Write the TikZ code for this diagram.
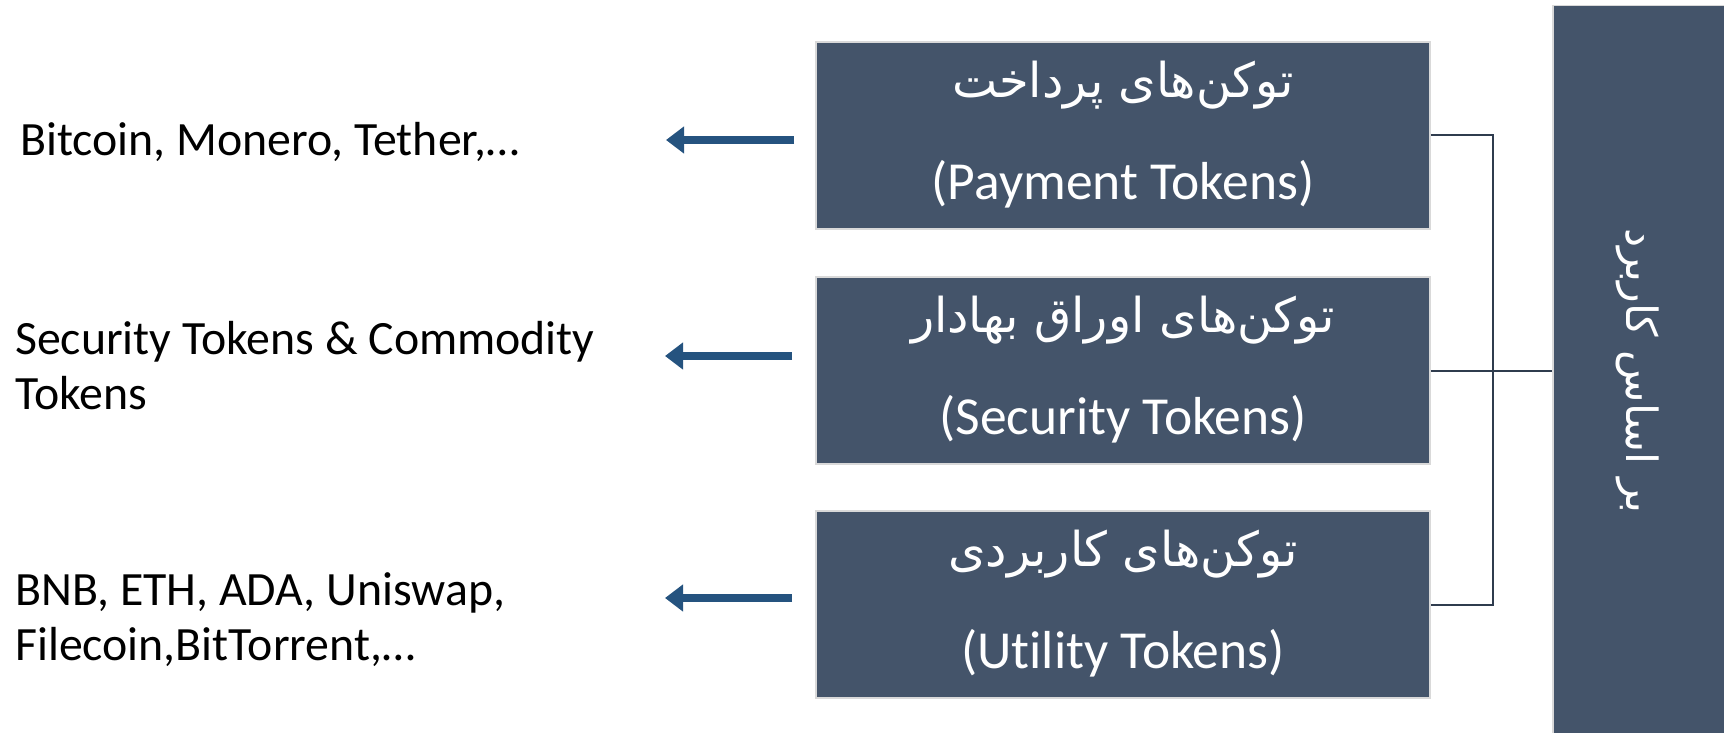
\documentclass[tikz,border=0pt]{standalone}
\usepackage{fontspec}
\setmainfont[Ligatures=NoCommon]{Carlito}
\newfontfamily\persianfont[Script=Arabic]{DejaVu Sans}
\TeXXeTstate=1
\usepackage{xcolor}
\usetikzlibrary{
    arrows.meta,
    positioning,
    calc
}
\definecolor{slate}{HTML}{44546A}
\definecolor{edge}{HTML}{D9D9D9}
\definecolor{wire}{HTML}{2F3C4E}
\definecolor{pointer}{HTML}{25537F}
\tikzset{
    % Category box style
    category/.style={
        rectangle,
        minimum width=614pt,
        minimum height=187pt,
        fill=slate,
        draw=edge,
        line width=1.5pt
    },
    % Side box style
    basis/.style={
        rectangle,
        minimum width=172pt,
        minimum height=740pt,
        fill=slate,
        draw=edge,
        line width=1.5pt
    },
    % Text styles
    fa text/.style={
        text=white,
        inner sep=0pt,
        font=\persianfont\fontsize{48}{56}\selectfont
    },
    en text/.style={
        text=white,
        inner sep=0pt,
        font=\fontsize{53.5}{62}\selectfont
    },
    example text/.style={
        align=left,
        anchor=west,
        inner sep=0pt,
        text=black,
        font=\fontsize{47.8}{55}\selectfont
    },
    % Arrow styles
    flow/.style={
        -{Triangle[length=18pt, width=26pt]},
        line width=8pt,
        color=pointer
    },
    link/.style={
        line width=2pt,
        color=wire
    }
}

\begin{document}
\begin{tikzpicture}[x=1pt, y=-1pt]
    \useasboundingbox (0,0) rectangle (1724,733);

    % Categories
    \node[category] (pay) at (1123,135.5) {};
    \node[category] (sec) at (1123,370.5) {};
    \node[category] (util) at (1123,604.5) {};

    % Basis box
    \node[basis] (base) at (1639,375.5) {};
    \node[fa text, font=\persianfont\fontsize{43}{50}\selectfont, rotate=-90] (base-fa) at (1638,371) {\beginR بر اساس کاربرد\endR};

    % Box labels
    \node[fa text] (pay-fa) at (1123,85) {\beginR توکن‌های پرداخت\endR};
    \node[en text] (pay-en) at (1123,184) {(Payment Tokens)};
    \node[fa text] (sec-fa) at (1123,320) {\beginR توکن‌های اوراق بهادار\endR};
    \node[en text] (sec-en) at (1123,419) {(Security Tokens)};
    \node[fa text] (util-fa) at (1123,554) {\beginR توکن‌های کاربردی\endR};
    \node[en text] (util-en) at (1123,653) {(Utility Tokens)};

    % Examples
    \node[example text] (ex-pay) at (20,142) {Bitcoin, Monero, Tether,…};
    \node[example text] (ex-sec) at (15,366) {Security Tokens \& Commodity\\Tokens};
    \node[example text] (ex-util) at (15,620) {BNB, ETH, ADA, Uniswap,\\Filecoin,BitTorrent,…};

    % Arrows
    \coordinate (pay-tail) at (794,140);
    \coordinate (pay-tip) at (666,140);
    \coordinate (sec-tail) at (792,356);
    \coordinate (sec-tip) at (665,356);
    \coordinate (util-tail) at (792,598);
    \coordinate (util-tip) at (665,598);
    \draw[flow] (pay-tail) -- (pay-tip);
    \draw[flow] (sec-tail) -- (sec-tip);
    \draw[flow] (util-tail) -- (util-tip);

    % Bracket
    \draw[link] (pay.east) -- ++(62,0) |- (util.east);
    \draw[link] (sec.east) -- (sec.east -| base.west);

\end{tikzpicture}
\end{document}
